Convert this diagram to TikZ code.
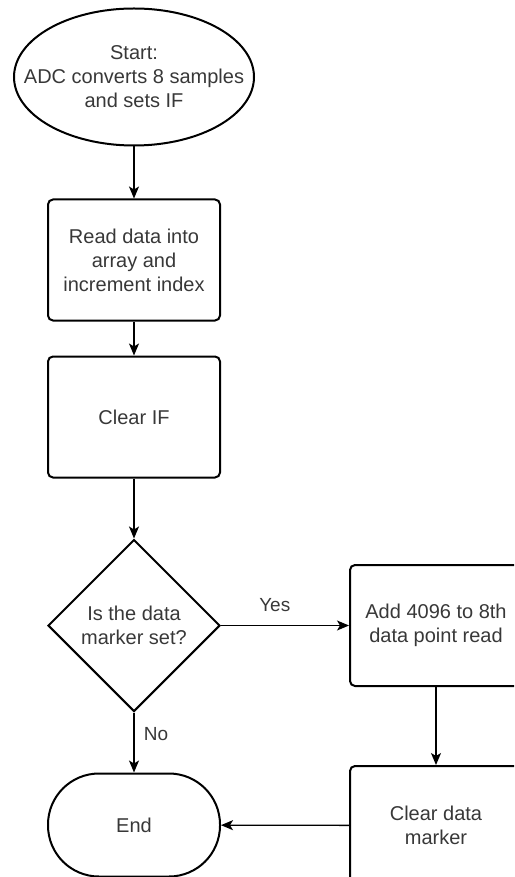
\documentclass[tikz,border=0pt]{standalone}
\usepackage{fontspec}
\setmainfont{Liberation Sans}
\usepackage{tikz}
\usetikzlibrary{
  positioning,
  shapes,
  arrows.meta
}
\tikzset{>={Stealth[length=12pt,width=10pt,inset=3pt]}}
\definecolor{textgray}{HTML}{383838}

\begin{document}
\begin{tikzpicture}[x=1pt, y=1pt,
    process/.style = {rectangle, draw, rounded corners=5pt, line width=2pt, align=center, minimum width=172pt, minimum height=121pt, text=textgray},
    terminal/.style = {ellipse, draw, line width=2pt, align=center, minimum width=240pt, minimum height=137pt, inner xsep=-30pt, inner ysep=0pt, text=textgray},
    decision/.style = {diamond, draw, line width=2pt, align=center, minimum width=172pt, minimum height=172pt, inner sep=0pt, text=textgray},
    terminator/.style = {rectangle, draw, rounded corners=51pt, line width=2pt, minimum width=172pt, minimum height=103pt, text=textgray},
    lbl/.style = {text=textgray, font=\fontsize{19}{23}\selectfont},
    line width=1.3pt, ->, font=\fontsize{20}{24}\selectfont]
        \useasboundingbox (0,0) rectangle (514,-877);
        \clip (0,0) rectangle (514,-877);
        % nodes
        \node[terminal] (start) at (134,-77) {Start:\\ADC converts 8 samples\\and sets IF};
        \node[process, below=52pt of start] (read) {Read data into\\array and\\increment index};
        \node[process, below=34pt of read] (clear_if) {Clear IF};
        \node[decision, below=60pt of clear_if] (marker_set) {Is the data\\marker set?};
        \node[terminator, below=60pt of marker_set] (finish) {End};

        \node[process, right=128pt of marker_set] (add_offset) {Add 4096 to 8th\\data point read};
        \node[process, below=78pt of add_offset, minimum height=119pt] (clear_marker) {Clear data\\marker};

        % connections
        \draw (start) -- (read);
        \draw (read) -- (clear_if);
        \draw (clear_if) -- (marker_set);
        \draw (marker_set) -- node[lbl, above=10pt, pos=0.42] {Yes} (add_offset);
        \draw (marker_set) -- node[lbl, right=6pt, pos=0.36] {No} (finish);
        \draw (add_offset) -- (clear_marker);
        \draw (clear_marker) -- (finish);
      \end{tikzpicture}
\end{document}
